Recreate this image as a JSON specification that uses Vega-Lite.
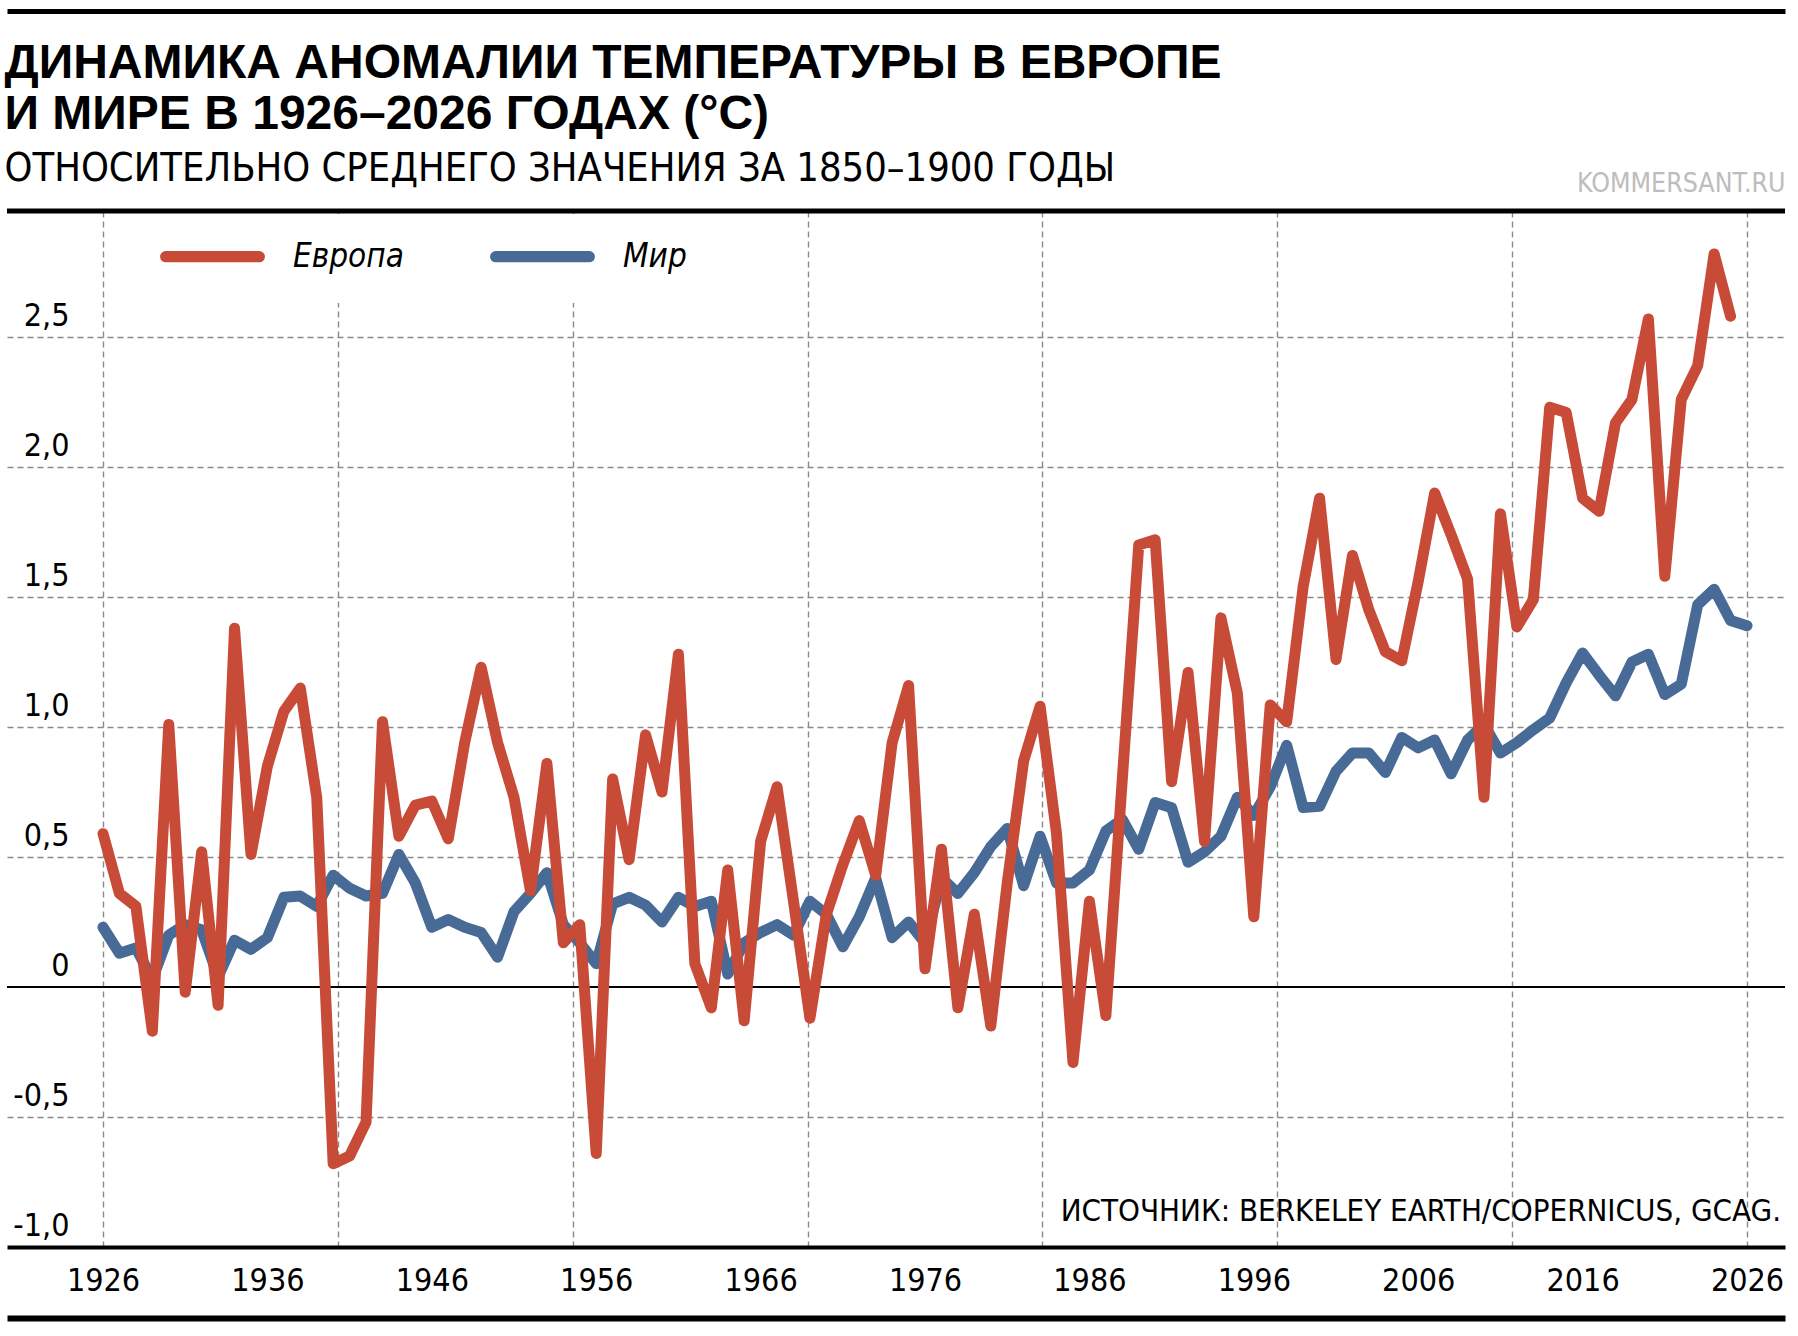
{
  "$schema": "https://vega.github.io/schema/vega-lite/v6.json",
  "width": 1778,
  "height": 1036,
  "autosize": {"type": "none"},
  "padding": {"left": 7, "top": 211, "right": 13, "bottom": 89},
  "title": {
    "text": ["ДИНАМИКА АНОМАЛИИ ТЕМПЕРАТУРЫ В ЕВРОПЕ", "И МИРЕ В 1926–2026 ГОДАХ (°C)"],
    "subtitle": "ОТНОСИТЕЛЬНО СРЕДНЕГО ЗНАЧЕНИЯ ЗА 1850–1900 ГОДЫ",
    "anchor": "start",
    "frame": "bounds",
    "offset": -177,
    "font": "Liberation Sans",
    "fontSize": 48,
    "fontWeight": "bold",
    "lineHeight": 51,
    "color": "#000000",
    "subtitleFont": "DejaVu Sans Condensed, Roboto, sans-serif",
    "subtitleFontSize": 39.5,
    "subtitleColor": "#000000",
    "subtitlePadding": 11
  },
  "datasets": {
    "anomaly": [
      {"year": 1926, "europe": 0.59, "world": 0.23},
      {"year": 1927, "europe": 0.36, "world": 0.13},
      {"year": 1928, "europe": 0.31, "world": 0.15},
      {"year": 1929, "europe": -0.17, "world": 0.03},
      {"year": 1930, "europe": 1.01, "world": 0.2},
      {"year": 1931, "europe": -0.02, "world": 0.24},
      {"year": 1932, "europe": 0.52, "world": 0.22},
      {"year": 1933, "europe": -0.07, "world": 0.04},
      {"year": 1934, "europe": 1.38, "world": 0.18},
      {"year": 1935, "europe": 0.51, "world": 0.145},
      {"year": 1936, "europe": 0.85, "world": 0.19},
      {"year": 1937, "europe": 1.06, "world": 0.345},
      {"year": 1938, "europe": 1.15, "world": 0.35},
      {"year": 1939, "europe": 0.73, "world": 0.31},
      {"year": 1940, "europe": -0.68, "world": 0.43},
      {"year": 1941, "europe": -0.65, "world": 0.38},
      {"year": 1942, "europe": -0.52, "world": 0.35},
      {"year": 1943, "europe": 1.02, "world": 0.36},
      {"year": 1944, "europe": 0.58, "world": 0.51},
      {"year": 1945, "europe": 0.7, "world": 0.4},
      {"year": 1946, "europe": 0.715, "world": 0.23},
      {"year": 1947, "europe": 0.57, "world": 0.26},
      {"year": 1948, "europe": 0.94, "world": 0.23},
      {"year": 1949, "europe": 1.23, "world": 0.21},
      {"year": 1950, "europe": 0.94, "world": 0.115},
      {"year": 1951, "europe": 0.73, "world": 0.29},
      {"year": 1952, "europe": 0.37, "world": 0.36},
      {"year": 1953, "europe": 0.86, "world": 0.44},
      {"year": 1954, "europe": 0.17, "world": 0.24},
      {"year": 1955, "europe": 0.24, "world": 0.17},
      {"year": 1956, "europe": -0.64, "world": 0.09},
      {"year": 1957, "europe": 0.8, "world": 0.32},
      {"year": 1958, "europe": 0.49, "world": 0.345},
      {"year": 1959, "europe": 0.97, "world": 0.315},
      {"year": 1960, "europe": 0.75, "world": 0.25},
      {"year": 1961, "europe": 1.28, "world": 0.345},
      {"year": 1962, "europe": 0.09, "world": 0.31},
      {"year": 1963, "europe": -0.08, "world": 0.33},
      {"year": 1964, "europe": 0.45, "world": 0.05},
      {"year": 1965, "europe": -0.13, "world": 0.17},
      {"year": 1966, "europe": 0.56, "world": 0.21},
      {"year": 1967, "europe": 0.77, "world": 0.24},
      {"year": 1968, "europe": 0.33, "world": 0.2},
      {"year": 1969, "europe": -0.12, "world": 0.33},
      {"year": 1970, "europe": 0.28, "world": 0.28},
      {"year": 1971, "europe": 0.47, "world": 0.155},
      {"year": 1972, "europe": 0.64, "world": 0.27},
      {"year": 1973, "europe": 0.43, "world": 0.42},
      {"year": 1974, "europe": 0.94, "world": 0.19},
      {"year": 1975, "europe": 1.16, "world": 0.25},
      {"year": 1976, "europe": 0.07, "world": 0.17},
      {"year": 1977, "europe": 0.53, "world": 0.42},
      {"year": 1978, "europe": -0.08, "world": 0.36},
      {"year": 1979, "europe": 0.28, "world": 0.44},
      {"year": 1980, "europe": -0.15, "world": 0.54},
      {"year": 1981, "europe": 0.4, "world": 0.61},
      {"year": 1982, "europe": 0.87, "world": 0.39},
      {"year": 1983, "europe": 1.08, "world": 0.58},
      {"year": 1984, "europe": 0.59, "world": 0.4},
      {"year": 1985, "europe": -0.29, "world": 0.4},
      {"year": 1986, "europe": 0.33, "world": 0.45},
      {"year": 1987, "europe": -0.11, "world": 0.6},
      {"year": 1988, "europe": 0.8, "world": 0.645},
      {"year": 1989, "europe": 1.7, "world": 0.53},
      {"year": 1990, "europe": 1.72, "world": 0.71},
      {"year": 1991, "europe": 0.79, "world": 0.69},
      {"year": 1992, "europe": 1.21, "world": 0.48},
      {"year": 1993, "europe": 0.56, "world": 0.52},
      {"year": 1994, "europe": 1.42, "world": 0.58},
      {"year": 1995, "europe": 1.13, "world": 0.73},
      {"year": 1996, "europe": 0.27, "world": 0.66},
      {"year": 1997, "europe": 1.085, "world": 0.77},
      {"year": 1998, "europe": 1.02, "world": 0.93},
      {"year": 1999, "europe": 1.54, "world": 0.69},
      {"year": 2000, "europe": 1.88, "world": 0.695},
      {"year": 2001, "europe": 1.26, "world": 0.83},
      {"year": 2002, "europe": 1.66, "world": 0.9},
      {"year": 2003, "europe": 1.45, "world": 0.9},
      {"year": 2004, "europe": 1.29, "world": 0.825},
      {"year": 2005, "europe": 1.255, "world": 0.96},
      {"year": 2006, "europe": 1.56, "world": 0.92},
      {"year": 2007, "europe": 1.9, "world": 0.95},
      {"year": 2008, "europe": 1.74, "world": 0.82},
      {"year": 2009, "europe": 1.57, "world": 0.95},
      {"year": 2010, "europe": 0.73, "world": 1.01},
      {"year": 2011, "europe": 1.82, "world": 0.9},
      {"year": 2012, "europe": 1.385, "world": 0.94},
      {"year": 2013, "europe": 1.49, "world": 0.99},
      {"year": 2014, "europe": 2.23, "world": 1.035},
      {"year": 2015, "europe": 2.21, "world": 1.17},
      {"year": 2016, "europe": 1.88, "world": 1.285},
      {"year": 2017, "europe": 1.83, "world": 1.2},
      {"year": 2018, "europe": 2.17, "world": 1.12},
      {"year": 2019, "europe": 2.26, "world": 1.25},
      {"year": 2020, "europe": 2.57, "world": 1.28},
      {"year": 2021, "europe": 1.58, "world": 1.125},
      {"year": 2022, "europe": 2.26, "world": 1.165},
      {"year": 2023, "europe": 2.39, "world": 1.47},
      {"year": 2024, "europe": 2.82, "world": 1.53},
      {"year": 2025, "europe": 2.58, "world": 1.41},
      {"year": 2026, "europe": null, "world": 1.39}
    ]
  },
  "layer": [
    {
      "data": {"values": [{}]},
      "mark": {"type": "rule", "color": "#000000", "strokeWidth": 2},
      "encoding": {
        "x": {"datum": 1920.16, "type": "quantitative", "scale": {"domain": [1920.16, 2028.31], "nice": false, "zero": false},
          "axis": {"orient": "top", "offset": 0, "domain": false, "labels": false, "ticks": false, "grid": false,
            "title": "KOMMERSANT.RU", "titleAnchor": "end", "titleAlign": "right", "titleBaseline": "bottom",
            "titleFont": "DejaVu Sans Condensed, Roboto, sans-serif", "titleFontSize": 26.5, "titleFontWeight": "normal", "titleColor": "#bdbdbd", "titlePadding": 14}},
        "x2": {"datum": 2028.31},
        "y": {"datum": 0, "type": "quantitative", "scale": {"domain": [-1, 2.985], "nice": false, "zero": false}, "axis": null}
      }
    },
    {
      "data": {"values": [{}]},
      "mark": {"type": "rule", "color": "#000000", "strokeWidth": 5},
      "encoding": {
        "x": {"datum": 1920.16, "type": "quantitative", "scale": {"domain": [1920.16, 2028.31], "nice": false, "zero": false},
          "axis": {"orient": "top", "offset": 200, "domain": true, "domainColor": "#000000", "domainWidth": 5,
            "labels": false, "ticks": false, "grid": false, "title": null}},
        "x2": {"datum": 2028.31},
        "y": {"datum": 2.985, "type": "quantitative", "scale": {"domain": [-1, 2.985], "nice": false, "zero": false}, "axis": null}
      }
    },
    {
      "data": {"values": [{"source": "ИСТОЧНИК: BERKELEY EARTH/COPERNICUS, GCAG."}]},
      "mark": {"type": "text", "align": "right", "baseline": "alphabetic", "dx": -4, "font": "DejaVu Sans Condensed, Roboto, sans-serif", "fontSize": 31, "color": "#000000"},
      "encoding": {
        "text": {"field": "source", "type": "nominal"},
        "x": {"datum": 2028.31, "type": "quantitative", "scale": {"domain": [1920.16, 2028.31], "nice": false, "zero": false},
          "axis": {"orient": "bottom", "offset": 71, "domain": true, "domainColor": "#000000", "domainWidth": 6,
            "labels": false, "ticks": false, "grid": false, "title": null}},
        "y": {"datum": -0.9, "type": "quantitative", "scale": {"domain": [-1, 2.985], "nice": false, "zero": false}, "axis": null}
      }
    },
    {
      "data": {"name": "anomaly"},
      "mark": {"type": "line", "strokeWidth": 11, "strokeJoin": "round", "strokeCap": "round"},
      "encoding": {
        "x": {"field": "year", "type": "quantitative", "scale": {"domain": [1920.16, 2028.31], "nice": false, "zero": false},
          "axis": {"orient": "bottom", "values": [1926, 1940.2857, 1954.5714, 1968.8571, 1983.1429, 1997.4286, 2011.7143, 2026],
            "grid": true, "gridColor": "#8a8a8a", "gridDash": [6, 4], "gridWidth": 1.4,
            "domain": false, "labels": false, "ticks": false, "title": null}},
        "y": {"field": "world", "type": "quantitative", "scale": {"domain": [-1, 2.985], "nice": false, "zero": false}, "axis": null},
        "color": {"datum": "Мир", "type": "nominal",
          "scale": {"domain": ["Европа", "Мир"], "range": ["#c84b38", "#476b96"]},
          "legend": {"title": null, "orient": "none", "legendX": 163, "legendY": 3, "direction": "horizontal"}}
      }
    },
    {
      "data": {"name": "anomaly"},
      "mark": {"type": "line", "strokeWidth": 11, "strokeJoin": "round", "strokeCap": "round"},
      "encoding": {
        "x": {"field": "year", "type": "quantitative", "scale": {"domain": [1920.16, 2028.31], "nice": false, "zero": false},
          "axis": {"orient": "bottom", "values": [1926, 1936, 1946, 1956, 1966, 1976, 1986, 1996, 2006, 2016, 2026], "format": "d",
            "grid": false, "ticks": false, "domain": true, "domainColor": "#000000", "domainWidth": 4,
            "labelFont": "DejaVu Sans Condensed, Roboto, sans-serif", "labelFontSize": 32, "labelColor": "#000000", "labelPadding": 18,
            "labelFlush": false, "labelOverlap": false, "labelBound": false, "title": null}},
        "y": {"field": "europe", "type": "quantitative", "scale": {"domain": [-1, 2.985], "nice": false, "zero": false},
          "axis": {"orient": "left", "values": [-1, -0.5, 0, 0.5, 1, 1.5, 2, 2.5],
            "grid": true, "gridColor": "#8a8a8a", "gridDash": [6, 4], "gridWidth": 1.4,
            "gridOpacity": {"condition": {"test": "datum.value === 0 || datum.value === -1", "value": 0}, "value": 1},
            "domain": false, "ticks": false,
            "labelExpr": "datum.value === 0 ? '0' : (datum.value < 0 ? '-' : '') + replace(format(abs(datum.value), '.1f'), '.', ',')",
            "labelAlign": "right", "labelBaseline": "alphabetic", "labelPadding": -62, "labelOffset": -12,
            "labelFont": "DejaVu Sans Condensed, Roboto, sans-serif", "labelFontSize": 32, "labelColor": "#000000",
            "labelFlush": false, "labelOverlap": false, "labelBound": false, "title": null}},
        "color": {"datum": "Европа", "type": "nominal",
          "scale": {"domain": ["Европа", "Мир"], "range": ["#c84b38", "#476b96"]},
          "legend": {"title": null, "orient": "none", "legendX": 163, "legendY": 3, "direction": "horizontal"}}
      }
    }
  ],
  "resolve": {"axis": {"x": "independent", "y": "independent"}},
  "config": {
    "view": {"stroke": null},
    "background": "#ffffff",
    "legend": {
      "symbolType": "M-3.6,-0.01H3.6A0.01,0.01 0 0 1 3.6,0.01H-3.6A0.01,0.01 0 0 1 -3.6,-0.01Z",
      "symbolSize": 676,
      "symbolStrokeWidth": 11,
      "symbolOpacity": 1,
      "labelFont": "DejaVu Sans Condensed, Roboto, sans-serif",
      "labelFontStyle": "italic",
      "labelFontSize": 33,
      "labelColor": "#000000",
      "labelOffset": 62,
      "columnPadding": 69,
      "padding": 24,
      "fillColor": "#ffffff",
      "labelLimit": 400
    }
  }
}
